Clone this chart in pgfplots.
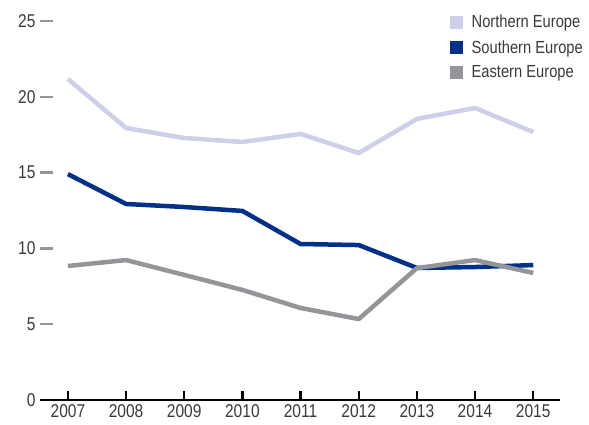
\documentclass[border=0pt]{standalone}
\usepackage{fontspec}
\setmainfont{Liberation Sans}[FakeStretch=0.84]
\usepackage{pgfplots}
\pgfplotsset{compat=1.18}
\definecolor{north}{HTML}{CDD0E8}
\definecolor{south}{HTML}{003087}
\definecolor{east}{HTML}{939598}
\definecolor{txt}{HTML}{3A3A3A}
\begin{document}
\begin{tikzpicture}
\useasboundingbox (-40pt,-25pt) rectangle (549pt,400pt);
\begin{axis}[
  scale only axis, width=520pt, height=379pt,
  at={(0pt,0pt)}, anchor=south west,
  xmin=2006.52, xmax=2015.46, ymin=0, ymax=25,
  axis x line=bottom, axis y line=left,
  y axis line style={draw=none},
  x axis line style={color=black, line width=2.4pt, -},
  xtick={2007,...,2015},
  ytick={5,10,...,25}, extra y ticks={0}, extra y tick style={tick style={draw=none}},
  tick align=inside,
  major tick length=9pt,
  y tick style={color=east, line width=2.4pt, /pgfplots/major tick length=13pt},
  x tick style={color=black, line width=2.4pt},
  /pgf/number format/assume math mode=true,
  /pgf/number format/1000 sep={},
  ticklabel style={font=\fontsize{18.5}{21}\selectfont, text=txt},
  yticklabel style={xshift=-1pt},
  xticklabel style={yshift=-1pt},
  legend style={at={(548pt,389pt)}, anchor=north east, draw=none, fill=none,
    font=\fontsize{17.5}{20}\selectfont, text=txt, row sep=7pt,
    legend cell align=left},
  legend image code/.code={\fill[#1, draw=none] (0pt,-6.5pt) rectangle (13pt,6.5pt); \path[draw=none] (0pt,0pt) -- (20pt,0pt);},
  every axis plot/.append style={line width=4.5pt, line join=round},
]
\addplot[color=north] coordinates {(2007,21.17) (2008,17.94) (2009,17.28) (2010,17.02) (2011,17.55) (2012,16.29) (2013,18.54) (2014,19.26) (2015,17.68)};
\addlegendentry{Northern Europe}
\addplot[color=south] coordinates {(2007,14.9) (2008,12.93) (2009,12.73) (2010,12.47) (2011,10.29) (2012,10.22) (2013,8.71) (2014,8.77) (2015,8.9)};
\addlegendentry{Southern Europe}
\addplot[color=east] coordinates {(2007,8.84) (2008,9.23) (2009,8.25) (2010,7.26) (2011,6.07) (2012,5.34) (2013,8.7) (2014,9.23) (2015,8.38)};
\addlegendentry{Eastern Europe}
\end{axis}
\end{tikzpicture}
\end{document}
